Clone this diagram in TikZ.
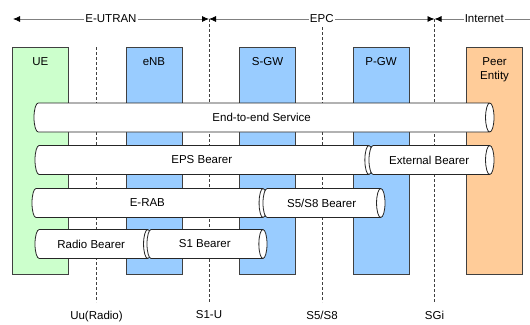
\documentclass[tikz,border=0pt]{standalone}
\usepackage{fontspec}
\setmainfont{Liberation Sans}
\usetikzlibrary{positioning,chains,shapes.geometric,arrows.meta}
\definecolor{uegreen}{RGB}{204,255,204}
\definecolor{nodeblue}{RGB}{153,204,255}
\definecolor{peerorange}{RGB}{255,204,153}
\definecolor{edgegray}{RGB}{64,64,64}

\begin{document}
\begin{tikzpicture}[x=1pt,y=-1pt,line width=0.8pt,
  font=\fontsize{11.5}{13}\selectfont,
  colbox/.style={draw=edgegray,minimum width=56pt,minimum height=227pt,inner sep=0pt},
  collabel/.style={anchor=north,yshift=-8pt,align=center,inner sep=2pt,font=\fontsize{11.5}{14}\selectfont},
  bearer/.style={cylinder,draw=black!85,fill=white,aspect=1,minimum width=29pt,inner sep=0pt,anchor=shape center},
  iface/.style={edgegray,dash pattern=on 3pt off 2pt},
  span/.style={gray,>={Latex[length=7pt,width=6pt,color=black]}},
  spanlabel/.style={fill=white,inner sep=1pt,text=black}
]
\useasboundingbox (0,0) rectangle (530,324);

% the interfaces
\coordinate (tl) at (13,19);
\coordinate (tr) at (530,19);
\coordinate (uu) at (96.5,47);
\coordinate (s1u) at (209,19);
\coordinate (s5s8) at (322,27);
\coordinate (sgi) at (434.5,19);
\coordinate (bot) at (0,302);

% the spans on top
\draw[span,<->] (tl) -- node[spanlabel] {E-UTRAN} (s1u);
\draw[span,<->] (s1u) -- node[spanlabel] {EPC} (sgi);
\draw[span,<-] (sgi) -- node[spanlabel,xshift=2pt] {Internet} (tr);

% the columns
\begin{scope}[start chain=going right,node distance=56.75pt]
  \node[colbox,on chain,fill=uegreen,anchor=north west,label={[collabel]north:UE}] (ue) at (12,47) {};
  \node[colbox,on chain,fill=nodeblue,label={[collabel]north:eNB}] (enb) {};
  \node[colbox,on chain,fill=nodeblue,label={[collabel]north:S-GW}] (sgw) {};
  \node[colbox,on chain,fill=nodeblue,label={[collabel]north:P-GW}] (pgw) {};
  \node[colbox,on chain,fill=peerorange,label={[collabel]north:Peer\\Entity}] (peer) {};
\end{scope}

% the reference points
\foreach \p/\t in {uu/Uu(Radio),s1u/S1-U,s5s8/{S5/S8},sgi/SGi}
  \draw[iface] (\p) -- (\p |- bot) node[anchor=north,inner sep=0pt,yshift=-8.5pt,text=black] {\t};

% the bearers
\node[bearer,minimum height=460pt] (e2e) at (264,117.5) {End-to-end Service};
\node[bearer,minimum height=338pt] (eps) at (204,160) {EPS Bearer};
\node[bearer,minimum height=125pt] (ext) at (431.5,160) {External Bearer};
\node[bearer,minimum height=235pt] (erab) at (149.5,203) {E-RAB};
\node[bearer,minimum height=122pt] (s5s8br) at (324,203) {S5/S8 Bearer};
\node[bearer,minimum height=117pt] (radio) at (93.5,244) {Radio Bearer};
\node[bearer,minimum height=120pt] (s1br) at (207,244) {S1 Bearer};
\end{tikzpicture}
\end{document}
